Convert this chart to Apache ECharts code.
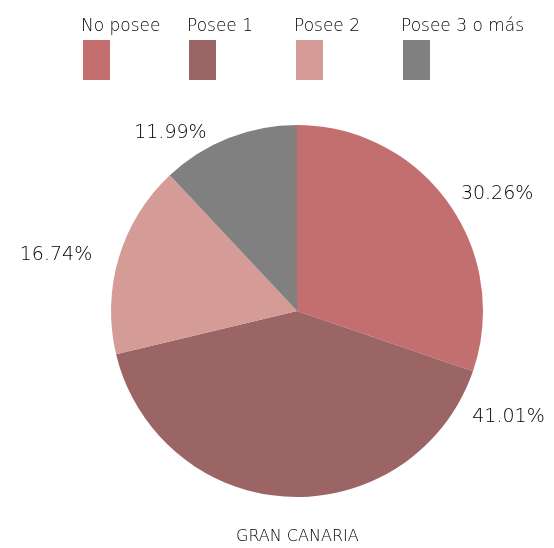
<!DOCTYPE html>
<html lang="es">
<head>
    <meta charset="UTF-8">
    <title>Gran Canaria</title>
    <script src="https://cdn.jsdelivr.net/npm/echarts@6/dist/echarts.min.js"></script>
    <style>
        html, body { margin: 0; padding: 0; background: #fff; }
    </style>
</head>
<body>
    <div id="main" style="width: 554px; height: 548px;"></div>
    <script>
        const categories = ['No posee', 'Posee 1', 'Posee 2', 'Posee 3 o más'];
        const shares = [30.26, 41.01, 16.74, 11.99];
        const colors = ['#c46f6f', '#9c6565', '#d59c97', '#808080'];
        const title = 'GRAN CANARIA';

        const legendLeft = [82, 188, 295, 402];
        // label nudges, to sit the percentages where the original put them
        const labelShift = [[1, -4], [262, -88], [-14, 0], [-14, 2]];
        const font = '"DejaVu Sans", sans-serif';
        const ink = '#000';

        // text row and swatch row are two legends per item, so the box sits under the label
        const legends = [];
        categories.forEach((name, i) => {
            legends.push({
                data: [name],
                left: legendLeft[i] - 1,
                top: 18,
                padding: 0,
                icon: 'none',
                itemWidth: 0,
                itemHeight: 10,
                selectedMode: false,
                textStyle: { fontFamily: font, fontWeight: 200, fontSize: 17, color: ink, padding: [0, 0, 0, -5] }
            });
            legends.push({
                data: [name],
                left: legendLeft[i] + 1,
                top: 40,
                padding: 0,
                icon: 'rect',
                itemWidth: 27,
                itemHeight: 40,
                selectedMode: false,
                formatter: () => '',
                textStyle: { fontSize: 1 }
            });
        });

        const option = {
            color: colors,
            title: {
                text: title,
                left: 236,
                top: 529,
                padding: 0,
                textStyle: { fontFamily: font, fontWeight: 200, fontSize: 16, color: ink }
            },
            legend: legends,
            series: [{
                type: 'pie',
                center: [297, 311],
                radius: 186,
                startAngle: 90,
                clockwise: true,
                animation: false,
                label: {
                    show: true,
                    position: 'outside',
                    fontFamily: font,
                    fontWeight: 200,
                    fontSize: 19,
                    color: ink,
                    formatter: p => p.value.toFixed(2) + '%'
                },
                labelLine: { show: false, length: 8, length2: 0 },
                labelLayout: p => ({ dx: labelShift[p.dataIndex][0], dy: labelShift[p.dataIndex][1] }),
                emphasis: { disabled: true },
                data: categories.map((name, i) => ({ name: name, value: shares[i] }))
            }]
        };

        const chart = echarts.init(document.getElementById('main'));
        chart.setOption(option);
    </script>
</body>
</html>
